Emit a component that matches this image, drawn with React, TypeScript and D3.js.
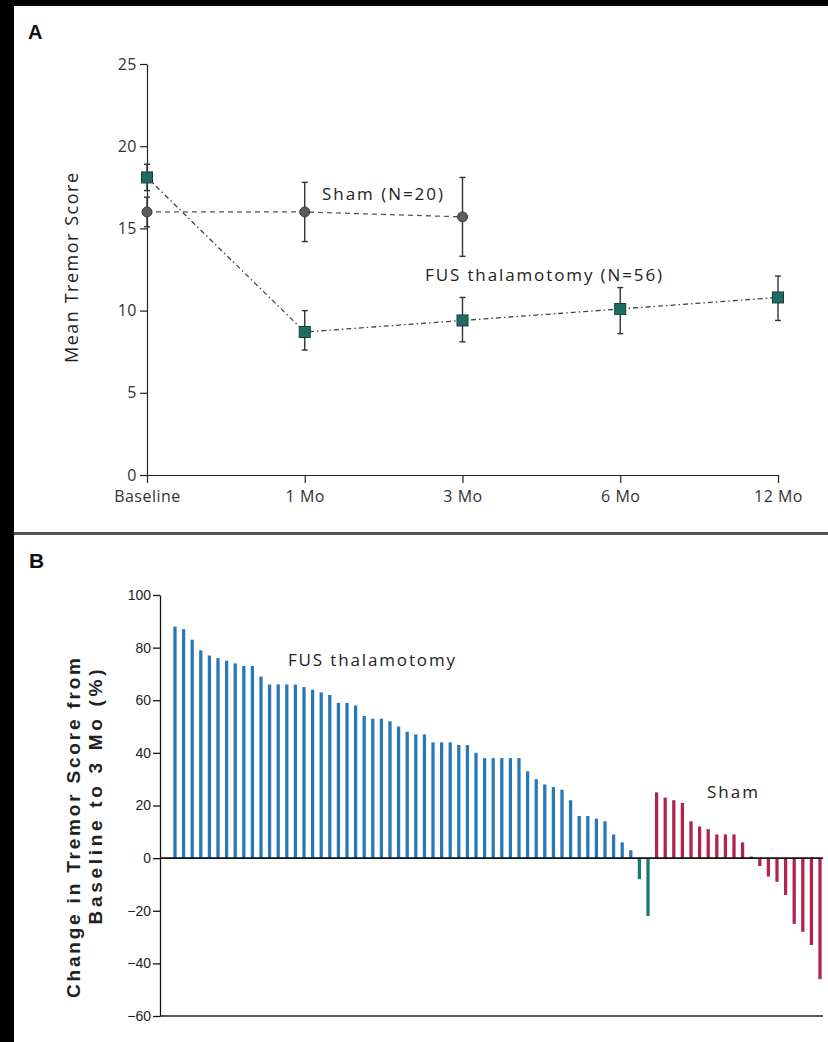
import React, { useEffect, useRef } from 'react';
import * as d3 from 'd3';

// Panel A: mean tremor score over time
const timepoints = ['Baseline', '1 Mo', '3 Mo', '6 Mo', '12 Mo'];
const shamMean = [16.0, 16.0, 15.7];
const shamLow = [15.1, 14.2, 13.3];
const shamHigh = [16.9, 17.8, 18.1];
const fusMean = [18.1, 8.7, 9.4, 10.1, 10.8];
const fusLow = [17.3, 7.6, 8.1, 8.6, 9.4];
const fusHigh = [18.9, 10.0, 10.8, 11.4, 12.1];
const scoreTicks = [0, 5, 10, 15, 20, 25];

// Panel B: per-patient change from baseline to 3 months (%)
const fusChange = [
  88, 87, 83, 79, 77, 76, 75, 74, 73, 73,
  69, 66, 66, 66, 66, 65, 64, 63, 62, 59,
  59, 58, 54, 53, 53, 52, 50, 48, 47, 47,
  44, 44, 44, 43, 43, 40, 38, 38, 38, 38,
  38, 33, 30, 28, 27, 26, 22, 16, 16, 15,
  14, 9, 6, 3, -8, -22,
];
const shamChange = [25, 23, 22, 21, 14, 12, 11, 9, 9, 9, 6, 0.6, -3, -7, -9, -14, -25, -28, -33, -46];
const changeTicks = [-60, -40, -20, 0, 20, 40, 60, 80, 100];

const FONT = '"Open Sans", "Liberation Sans", sans-serif';
const ARIAL = '"Liberation Sans", Arial, sans-serif';
const BLUE = '#2877b8';
const TEAL = '#1c7a6c';
const RED = '#b2234b';

const App = () => {
  const ref = useRef<SVGSVGElement>(null);

  useEffect(() => {
    const svg = d3.select(ref.current);
    svg.selectAll('*').remove();

    // page frame
    svg.append('rect').attr('width', 828).attr('height', 1042).attr('fill', '#fff');
    svg.append('rect').attr('x', 0).attr('y', 0).attr('width', 14).attr('height', 1042).attr('fill', '#000');
    svg.append('rect').attr('x', 0).attr('y', 0).attr('width', 828).attr('height', 6).attr('fill', '#000');
    svg.append('rect').attr('x', 14).attr('y', 532).attr('width', 814).attr('height', 3).attr('fill', '#555');

    // ---------- Panel A ----------
    const a = svg.append('g');
    a.append('text').attr('x', 28).attr('y', 39).text('A')
      .attr('font-family', ARIAL).attr('font-weight', 'bold').attr('font-size', 20).attr('fill', '#111');

    const x = d3.scalePoint<string>().domain(timepoints).range([147, 778]);
    const y = d3.scaleLinear().domain([0, 25]).range([475, 64]);

    const yAx = a.append('g').attr('transform', 'translate(147,0)')
      .call(d3.axisLeft(y).tickValues(scoreTicks).tickSize(7).tickSizeOuter(0).tickPadding(3));
    const xAx = a.append('g').attr('transform', 'translate(0,475)')
      .call(d3.axisBottom(x).tickSize(8).tickSizeOuter(0).tickPadding(8));
    [yAx, xAx].forEach(g => {
      g.selectAll('path, line').attr('stroke', '#222').attr('stroke-width', 1.2);
      g.selectAll('text').attr('font-family', FONT).attr('font-size', 16).attr('fill', '#333')
        .attr('letter-spacing', 0.5);
    });

    a.append('text')
      .attr('transform', 'translate(78,268) rotate(-90)')
      .attr('text-anchor', 'middle')
      .attr('font-family', FONT).attr('font-size', 18).attr('fill', '#222')
      .attr('textLength', 190).attr('lengthAdjust', 'spacing')
      .text('Mean Tremor Score');

    const line = d3.line<number>().x((d, i) => x(timepoints[i]) as number).y(d => y(d));
    a.append('path').datum(shamMean).attr('d', line).attr('fill', 'none')
      .attr('stroke', '#555').attr('stroke-width', 1.3).attr('stroke-dasharray', '5,4');
    a.append('path').datum(fusMean).attr('d', line).attr('fill', 'none')
      .attr('stroke', '#444').attr('stroke-width', 1.3).attr('stroke-dasharray', '5,3,1.5,3');

    const errBars = (g, means: number[], lows: number[], highs: number[]) => {
      means.forEach((m, i) => {
        const cx = x(timepoints[i]) as number;
        g.append('line').attr('x1', cx).attr('x2', cx).attr('y1', y(lows[i])).attr('y2', y(highs[i]))
          .attr('stroke', '#333').attr('stroke-width', 1.4);
        [lows[i], highs[i]].forEach(v => {
          g.append('line').attr('x1', cx - 3).attr('x2', cx + 3).attr('y1', y(v)).attr('y2', y(v))
            .attr('stroke', '#333').attr('stroke-width', 1.4);
        });
      });
    };
    errBars(a, shamMean, shamLow, shamHigh);
    errBars(a, fusMean, fusLow, fusHigh);

    a.selectAll('circle.sham').data(shamMean).enter().append('circle')
      .attr('cx', (d, i) => x(timepoints[i]) as number).attr('cy', d => y(d)).attr('r', 5)
      .attr('fill', '#5c5c5c').attr('stroke', '#3a3a3a').attr('stroke-width', 1);
    a.selectAll('rect.fus').data(fusMean).enter().append('rect')
      .attr('x', (d, i) => (x(timepoints[i]) as number) - 5.5).attr('y', d => y(d) - 5.5)
      .attr('width', 11).attr('height', 11)
      .attr('fill', '#1f6c65').attr('stroke', '#12403b').attr('stroke-width', 1);

    a.append('text').attr('x', 322).attr('y', 200).text('Sham (N=20)')
      .attr('font-family', FONT).attr('font-size', 17).attr('fill', '#222')
      .attr('textLength', 121).attr('lengthAdjust', 'spacing');
    a.append('text').attr('x', 425).attr('y', 281).text('FUS thalamotomy (N=56)')
      .attr('font-family', FONT).attr('font-size', 17).attr('fill', '#222')
      .attr('textLength', 237).attr('lengthAdjust', 'spacing');

    // ---------- Panel B ----------
    const b = svg.append('g');
    b.append('text').attr('x', 29).attr('y', 568).text('B')
      .attr('font-family', ARIAL).attr('font-weight', 'bold').attr('font-size', 21).attr('fill', '#111');

    const all = fusChange.map(v => ({ v, group: 'fus' }))
      .concat(shamChange.map(v => ({ v, group: 'sham' })));
    const xb = d3.scaleBand<number>().domain(d3.range(all.length))
      .range([170.7, 824.3]).paddingInner(0.62).paddingOuter(0.31);
    const yb = d3.scaleLinear().domain([-60, 100]).range([1016, 595]);

    b.selectAll('rect.bar').data(all).enter().append('rect')
      .attr('x', (d, i) => xb(i) as number)
      .attr('width', xb.bandwidth())
      .attr('y', d => Math.min(yb(d.v), yb(0)))
      .attr('height', d => Math.abs(yb(d.v) - yb(0)))
      .attr('fill', d => d.group === 'sham' ? RED : d.v < 0 ? TEAL : BLUE);

    const ybAx = b.append('g').attr('transform', 'translate(160,0)')
      .call(d3.axisLeft(yb).tickValues(changeTicks).tickSize(7).tickSizeOuter(0).tickPadding(2));
    ybAx.selectAll('path, line').attr('stroke', '#111').attr('stroke-width', 1.3);
    ybAx.selectAll('text').attr('font-family', ARIAL).attr('font-size', 14).attr('fill', '#222');

    b.append('line').attr('x1', 160).attr('x2', 823).attr('y1', yb(0)).attr('y2', yb(0))
      .attr('stroke', '#111').attr('stroke-width', 1.6);
    b.append('line').attr('x1', 160).attr('x2', 823).attr('y1', yb(-60)).attr('y2', yb(-60))
      .attr('stroke', '#222').attr('stroke-width', 1.3);

    b.append('text').attr('x', 288).attr('y', 666).text('FUS thalamotomy')
      .attr('font-family', FONT).attr('font-size', 17).attr('fill', '#222')
      .attr('textLength', 167).attr('lengthAdjust', 'spacing');
    b.append('text').attr('x', 707).attr('y', 798).text('Sham')
      .attr('font-family', FONT).attr('font-size', 17).attr('fill', '#222')
      .attr('textLength', 51).attr('lengthAdjust', 'spacing');

    b.append('text')
      .attr('transform', 'translate(80,828) rotate(-90)')
      .attr('text-anchor', 'middle')
      .attr('font-family', ARIAL).attr('font-weight', 'bold').attr('font-size', 19).attr('fill', '#222')
      .attr('textLength', 340).attr('lengthAdjust', 'spacing')
      .text('Change in Tremor Score from');
    b.append('text')
      .attr('transform', 'translate(102,797) rotate(-90)')
      .attr('text-anchor', 'middle')
      .attr('font-family', ARIAL).attr('font-weight', 'bold').attr('font-size', 19).attr('fill', '#222')
      .attr('textLength', 255).attr('lengthAdjust', 'spacing')
      .text('Baseline to 3 Mo (%)');
  }, []);

  return (
    <div style={{ position: 'absolute', left: 0, top: 0 }}>
      <svg ref={ref} width={828} height={1042} />
    </div>
  );
};

export default App;
